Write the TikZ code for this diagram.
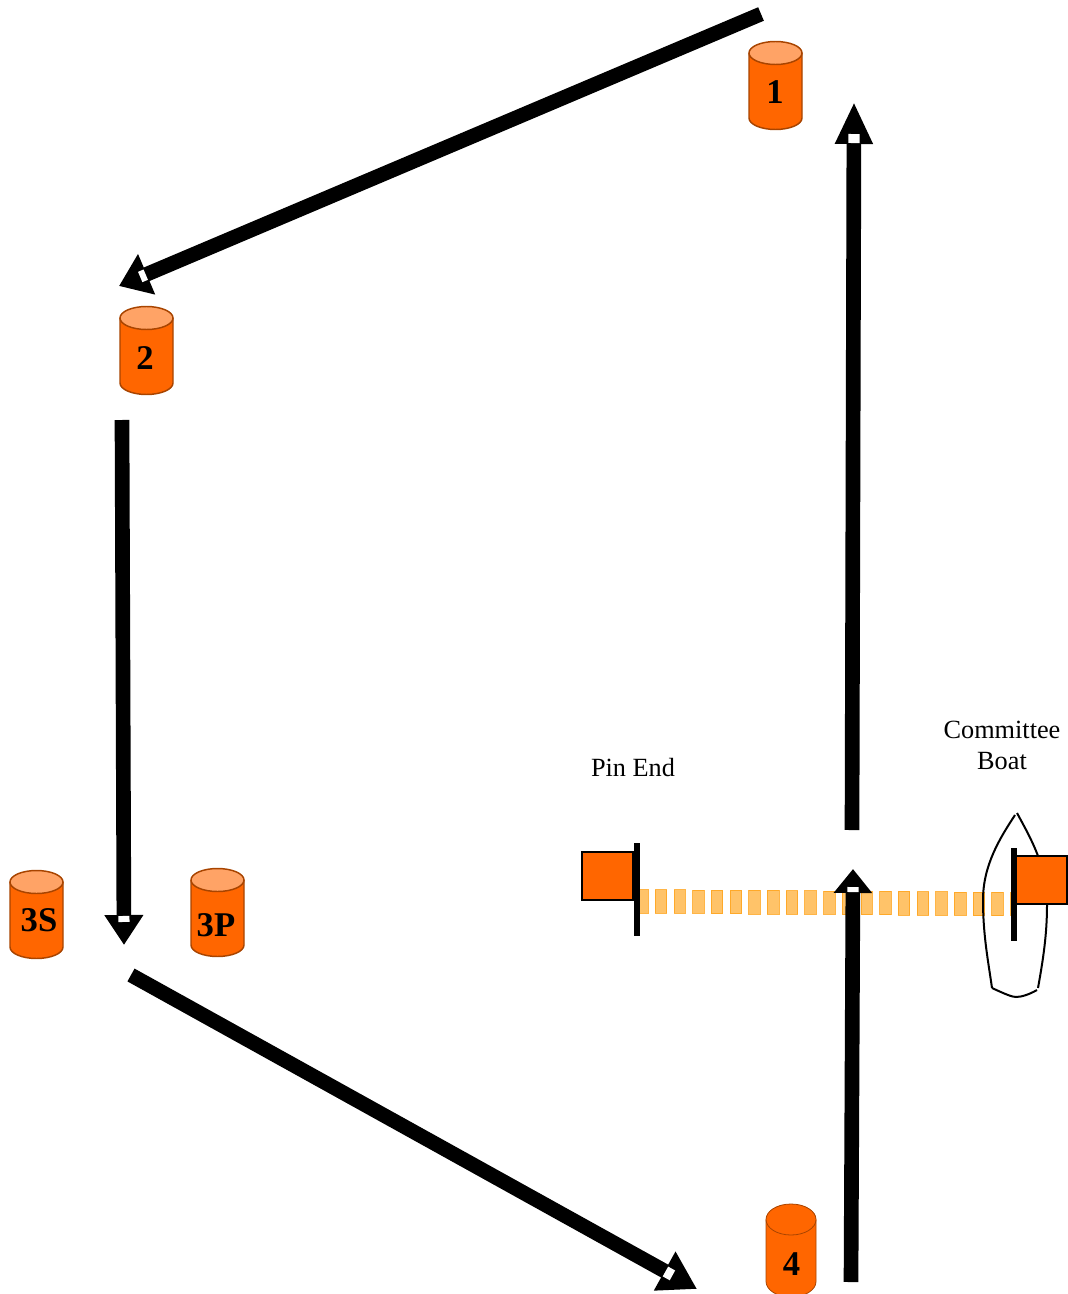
\documentclass[tikz,border=0pt]{standalone}
\usepackage{fontspec}
\setmainfont{Liberation Serif}
\usetikzlibrary{arrows.meta,decorations.markings}
\usetikzlibrary{positioning}
\definecolor{buoy}{HTML}{FF6600}
\definecolor{buoytop}{HTML}{FFA366}
\definecolor{buoyedge}{HTML}{A84400}
\definecolor{startline}{HTML}{FFA319}

\begin{document}
\begin{tikzpicture}
	[
	x=0.75pt, y=-0.75pt,
	leg/.style n args = {3}{line width=11pt, -{Triangle[length=#1*0.75pt,width=#2*0.75pt]},
		postaction=decorate,
		decoration={markings,mark=at position {-(#1-1)*0.75pt} with {\fill[white] (0,-4.2pt) rectangle (#3*0.75pt,4.2pt);}}},
	pics/buoyshape/.style n args = {5}{code={
		% half width, half height, cap radius, cap colour, line width
		\fill[buoy] (-#1,{-#2+#3}) arc[start angle=180,end angle=0,x radius=#1*0.75pt,y radius=#3*0.75pt]
			-- (#1,{#2-#3}) arc[start angle=0,end angle=-180,x radius=#1*0.75pt,y radius=#3*0.75pt] -- cycle;
		\draw[buoyedge, line width=#5] (-#1,{-#2+#3}) -- (-#1,{#2-#3}) arc[start angle=180,end angle=360,x radius=#1*0.75pt,y radius=#3*0.75pt] -- (#1,{-#2+#3});
		\draw[buoyedge, line width=#5, fill=#4] (0,{-#2+#3}) ellipse[x radius=#1*0.75pt,y radius=#3*0.75pt];
	}},
	buoylabel/.style = {font=\fontsize{26}{26}\selectfont\bfseries, inner sep=0pt},
	flagnode/.style = {draw, line width=1.5pt, fill=buoy, minimum width=38.5pt, minimum height=35.5pt, inner sep=0pt},
	pole/.style = {line width=4.5pt},
	hull/.style = {line width=1.5pt},
	caption/.style = {font=\fontsize{19.7}{23}\selectfont, align=center, inner sep=0pt},
	dashbox/.style = {draw=startline, line width=0.5pt, fill=startline, fill opacity=0.65, draw opacity=0.8}
	]
	\useasboundingbox (0,0) rectangle (1067,1294);

	\coordinate (a1) at (761,14);
	\coordinate (a2) at (119,286);
	\coordinate (b1) at (122,420);
	\coordinate (b2) at (124,945);
	\coordinate (c1) at (131,975);
	\coordinate (c2) at (697,1289);
	\coordinate (d1) at (851,1282);
	\coordinate (d2) at (853,869);
	\coordinate (e1) at (852,830);
	\coordinate (e2) at (854,102);
	\coordinate (pintop) at (637,843);
	\coordinate (pinbot) at (637,936);
	\coordinate (cbtop) at (1014,848);
	\coordinate (cbbot) at (1014,941);

	% start line
	\foreach \n in {0,...,19}
		\draw[dashbox] ({636.5+\n*18.7},{889.5+\n*0.14}) rectangle ++(11.5,23.5);
	\draw[dashbox] (1010.5,892.3) rectangle ++(4,23.5);

	% hull
	\draw[hull] (1015,815) .. controls (1000,838) and (983,865) .. (983,900) .. controls (983,935) and (988,960) .. (992,988);
	\draw[hull] (992,988) .. controls (1005,994) and (1012,997) .. (1016,997) .. controls (1022,997) and (1030,994) .. (1037,990);
	\draw[hull] (1017,813) .. controls (1024,826) and (1032,840) .. (1038,856);
	\draw[hull] (1047,905) .. controls (1047,935) and (1043,960) .. (1038,988);

	\draw[leg={30}{42}{6}] (a1) -- (a2);
	\draw[leg={30}{37}{6}] (b1) -- (b2);
	\draw[leg={37}{42}{8}] (c1) -- (c2);
	\draw[leg={24}{37}{5}] (d1) -- (d2);
	\draw[leg={42}{35}{9}] (e1) -- (e2);

	\node[flagnode] (pinflag) at (607.5,876) {};
	\node[flagnode] (cbflag) at (1041,880) {};
	\draw[pole] (pintop) -- (pinbot);
	\draw[pole] (cbtop) -- (cbbot);

	\pic at (775.5,85.5) {buoyshape={26.5}{44}{11.5}{buoytop}{1.1pt}};
	\pic at (146.5,350.5) {buoyshape={26.5}{44}{11.5}{buoytop}{1.1pt}};
	\pic at (36.5,914.5) {buoyshape={26.5}{44}{11.5}{buoytop}{1.1pt}};
	\pic at (217.5,912.5) {buoyshape={26.5}{44}{11.5}{buoytop}{1.1pt}};
	\pic at (791,1250.5) {buoyshape={25}{46.5}{15.5}{buoy}{0.6pt}};

	\node[buoylabel] (t1) at (775,92.5) {1};
	\node[buoylabel] (t2) at (145,358.5) {2};
	\node[buoylabel] (t3s) at (39,920.5) {3S};
	\node[buoylabel] (t3p) at (216,925.5) {3P};
	\node[buoylabel] (t4) at (791.5,1264) {4};

	\node[caption] (pinlabel) at (633,767.5) {Pin End};
	\node[caption] (cblabel) at (1002,745.5) {Committee\\Boat};
\end{tikzpicture}
\end{document}
